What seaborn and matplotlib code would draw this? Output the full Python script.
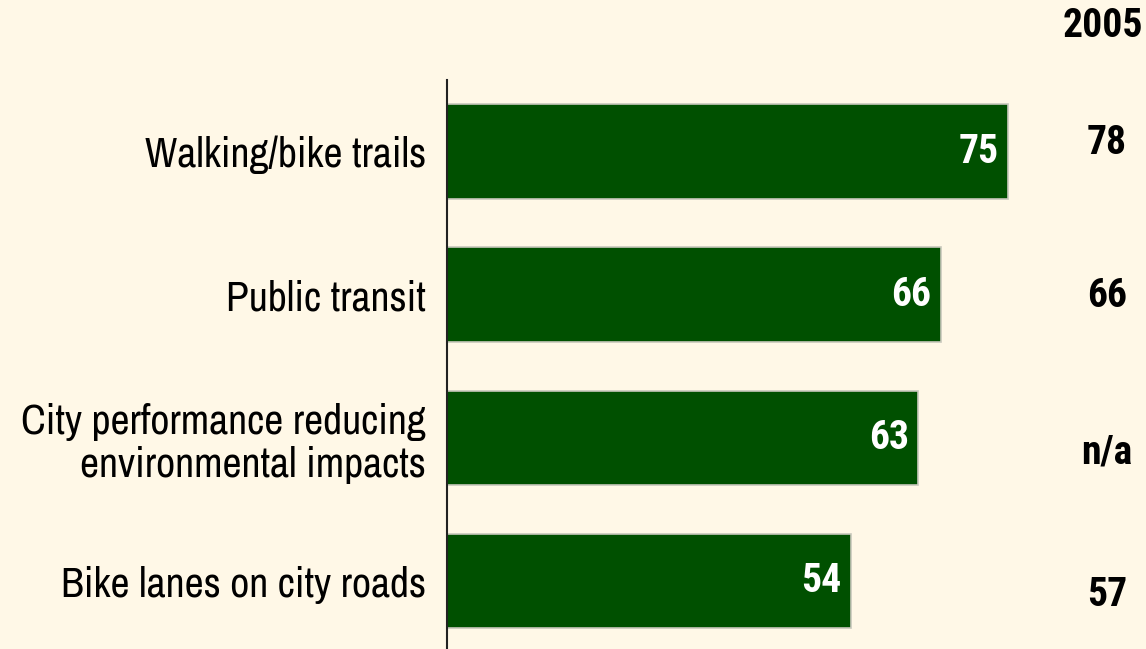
import matplotlib
matplotlib.use("Agg")
import matplotlib.pyplot as plt
import seaborn as sns
import pandas as pd

# datos
categorias = ["Walking/bike trails", "Public transit",
              "City performance reducing\nenvironmental impacts",
              "Bike lanes on city roads"]
valores = [75, 66, 63, 54]
valores_2005 = ["78", "66", "n/a", "57"]

FONDO = "#FFF8E7"
VERDE = "#005000"
FUENTE = ["Liberation Sans Narrow", "Arial Narrow", "Archivo Narrow",
          "Roboto Condensed", "PT Sans Narrow", "DejaVu Sans"]
FUENTE_B = ["Roboto Condensed", "PT Sans Narrow", "Archivo Narrow", "DejaVu Sans"]

sns.set_theme(style="white")
plt.rcParams["font.family"] = FUENTE

df = pd.DataFrame({"cat": categorias, "val": valores})

fig = plt.figure(figsize=(11.46, 6.49), dpi=100, facecolor=FONDO)
ax = fig.add_axes([447 / 1146, 0, 1 - 447 / 1146, 569 / 649])
ax.set_facecolor(FONDO)

sns.barplot(data=df, x="val", y="cat", orient="h", color=VERDE,
            saturation=1, width=0.66, edgecolor="#c8c8bc", linewidth=1.2, ax=ax)

ax.set_xlim(0, 93.4)
ax.set_ylim(3.475, -0.5)
for s in ["top", "right", "bottom"]:
    ax.spines[s].set_visible(False)
ax.spines["left"].set_color("#222222")
ax.spines["left"].set_linewidth(1.5)
ax.set_xticks([])
ax.set_xlabel("")
ax.set_ylabel("")
ax.tick_params(axis="y", length=0, pad=15)
for lbl in ax.get_yticklabels():
    lbl.set_fontsize(30)
    lbl.set_color("black")
    lbl.set_linespacing(1.15)

# etiquetas dentro de las barras
for i, v in enumerate(valores):
    ax.text(v - 1.3, i, str(v), ha="right", va="center", color="white",
            fontsize=28.5, fontweight="bold", family=FUENTE_B)

# columna 2005
offs = [-0.06, 0.01, 0.1, 0.1]
for i, t in enumerate(valores_2005):
    ax.text(88.2, i + offs[i], t, ha="center", va="center", color="black",
            fontsize=28.5, fontweight="bold", family=FUENTE_B)
fig.text(1103 / 1146, 1 - 26 / 649, "2005", ha="center", va="center",
         fontsize=28.5, fontweight="bold", color="black", family=FUENTE_B)

fig.savefig("out.png", dpi=100, facecolor=FONDO)
